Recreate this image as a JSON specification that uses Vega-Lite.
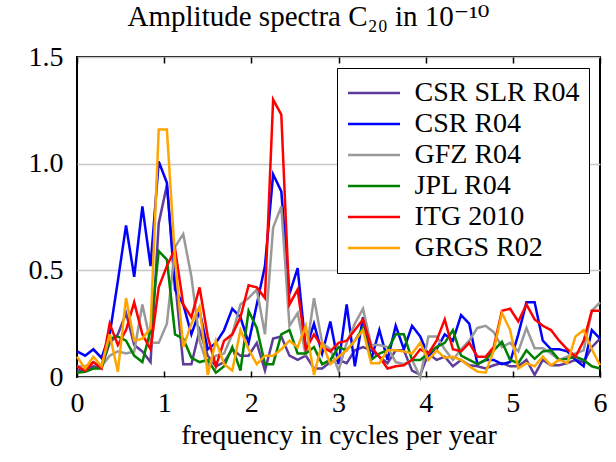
{
  "$schema": "https://vega.github.io/schema/vega-lite/v6.json",
  "width": 523,
  "height": 320,
  "autosize": {"type": "none"},
  "padding": {"left": 77, "top": 57, "right": 16, "bottom": 85},
  "background": "white",
  "config": {
    "font": "Liberation Serif",
    "view": {"stroke": "black", "strokeWidth": 2}
  },
  "title": {
    "text": "Amplitude spectra C₂₀ in 10⁻¹⁰",
    "fontSize": 29,
    "fontWeight": "normal",
    "font": "Liberation Serif, DejaVu Serif",
    "color": "black",
    "anchor": "middle",
    "frame": "group",
    "dx": -30,
    "offset": 11
  },
  "data": {
    "values": [
      {"f": 0, "CSR SLR R04": 0.03, "CSR R04": 0.12, "GFZ R04": 0.05, "JPL R04": 0.02, "ITG 2010": 0.05, "GRGS R02": 0.095},
      {"f": 0.09375, "CSR SLR R04": 0.035, "CSR R04": 0.10, "GFZ R04": 0.05, "JPL R04": 0.025, "ITG 2010": 0.03, "GRGS R02": 0.04},
      {"f": 0.1875, "CSR SLR R04": 0.05, "CSR R04": 0.13, "GFZ R04": 0.07, "JPL R04": 0.04, "ITG 2010": 0.07, "GRGS R02": 0.095},
      {"f": 0.28125, "CSR SLR R04": 0.045, "CSR R04": 0.09, "GFZ R04": 0.05, "JPL R04": 0.04, "ITG 2010": 0.04, "GRGS R02": 0.05},
      {"f": 0.375, "CSR SLR R04": 0.16, "CSR R04": 0.2, "GFZ R04": 0.1, "JPL R04": 0.18, "ITG 2010": 0.25, "GRGS R02": 0.2},
      {"f": 0.46875, "CSR SLR R04": 0.2, "CSR R04": 0.45, "GFZ R04": 0.12, "JPL R04": 0.19, "ITG 2010": 0.15, "GRGS R02": 0.025},
      {"f": 0.5625, "CSR SLR R04": 0.3, "CSR R04": 0.71, "GFZ R04": 0.11, "JPL R04": 0.17, "ITG 2010": 0.22, "GRGS R02": 0.37},
      {"f": 0.65625, "CSR SLR R04": 0.15, "CSR R04": 0.47, "GFZ R04": 0.12, "JPL R04": 0.1, "ITG 2010": 0.35, "GRGS R02": 0.17},
      {"f": 0.75, "CSR SLR R04": 0.12, "CSR R04": 0.80, "GFZ R04": 0.34, "JPL R04": 0.07, "ITG 2010": 0.2, "GRGS R02": 0.18},
      {"f": 0.84375, "CSR SLR R04": 0.07, "CSR R04": 0.52, "GFZ R04": 0.16, "JPL R04": 0.22, "ITG 2010": 0.13, "GRGS R02": 0.23},
      {"f": 0.9375, "CSR SLR R04": 0.72, "CSR R04": 1.01, "GFZ R04": 0.16, "JPL R04": 0.59, "ITG 2010": 0.42, "GRGS R02": 1.16},
      {"f": 1.03125, "CSR SLR R04": 0.9, "CSR R04": 0.91, "GFZ R04": 0.25, "JPL R04": 0.55, "ITG 2010": 0.52, "GRGS R02": 1.16},
      {"f": 1.125, "CSR SLR R04": 0.45, "CSR R04": 0.41, "GFZ R04": 0.61, "JPL R04": 0.2, "ITG 2010": 0.6, "GRGS R02": 0.55},
      {"f": 1.21875, "CSR SLR R04": 0.06, "CSR R04": 0.34, "GFZ R04": 0.67, "JPL R04": 0.18, "ITG 2010": 0.34, "GRGS R02": 0.14},
      {"f": 1.3125, "CSR SLR R04": 0.06, "CSR R04": 0.2, "GFZ R04": 0.47, "JPL R04": 0.09, "ITG 2010": 0.28, "GRGS R02": 0.25},
      {"f": 1.40625, "CSR SLR R04": 0.22, "CSR R04": 0.31, "GFZ R04": 0.17, "JPL R04": 0.07, "ITG 2010": 0.42, "GRGS R02": 0.33},
      {"f": 1.5, "CSR SLR R04": 0.1, "CSR R04": 0.13, "GFZ R04": 0.05, "JPL R04": 0.08, "ITG 2010": 0.19, "GRGS R02": 0.01},
      {"f": 1.59375, "CSR SLR R04": 0.05, "CSR R04": 0.16, "GFZ R04": 0.1, "JPL R04": 0.02, "ITG 2010": 0.05, "GRGS R02": 0.17},
      {"f": 1.6875, "CSR SLR R04": 0.07, "CSR R04": 0.22, "GFZ R04": 0.11, "JPL R04": 0.05, "ITG 2010": 0.17, "GRGS R02": 0.06},
      {"f": 1.78125, "CSR SLR R04": 0.13, "CSR R04": 0.32, "GFZ R04": 0.2, "JPL R04": 0.14, "ITG 2010": 0.2, "GRGS R02": 0.03},
      {"f": 1.875, "CSR SLR R04": 0.1, "CSR R04": 0.28, "GFZ R04": 0.34, "JPL R04": 0.03, "ITG 2010": 0.28, "GRGS R02": 0.22},
      {"f": 1.96875, "CSR SLR R04": 0.1, "CSR R04": 0.16, "GFZ R04": 0.37, "JPL R04": 0.31, "ITG 2010": 0.43, "GRGS R02": 0.13},
      {"f": 2.0625, "CSR SLR R04": 0.16, "CSR R04": 0.34, "GFZ R04": 0.41, "JPL R04": 0.23, "ITG 2010": 0.42, "GRGS R02": 0.06},
      {"f": 2.15625, "CSR SLR R04": 0.03, "CSR R04": 0.52, "GFZ R04": 0.2, "JPL R04": 0.06, "ITG 2010": 0.37, "GRGS R02": 0.10},
      {"f": 2.25, "CSR SLR R04": 0.18, "CSR R04": 0.95, "GFZ R04": 0.70, "JPL R04": 0.06, "ITG 2010": 1.30, "GRGS R02": 0.10},
      {"f": 2.34375, "CSR SLR R04": 0.19, "CSR R04": 0.87, "GFZ R04": 0.80, "JPL R04": 0.2, "ITG 2010": 1.23, "GRGS R02": 0.13},
      {"f": 2.4375, "CSR SLR R04": 0.1, "CSR R04": 0.39, "GFZ R04": 0.24, "JPL R04": 0.22, "ITG 2010": 0.34, "GRGS R02": 0.17},
      {"f": 2.53125, "CSR SLR R04": 0.08, "CSR R04": 0.51, "GFZ R04": 0.30, "JPL R04": 0.11, "ITG 2010": 0.41, "GRGS R02": 0.14},
      {"f": 2.625, "CSR SLR R04": 0.1, "CSR R04": 0.13, "GFZ R04": 0.10, "JPL R04": 0.11, "ITG 2010": 0.13, "GRGS R02": 0.24},
      {"f": 2.71875, "CSR SLR R04": 0.04, "CSR R04": 0.25, "GFZ R04": 0.37, "JPL R04": 0.14, "ITG 2010": 0.2, "GRGS R02": 0.01},
      {"f": 2.8125, "CSR SLR R04": 0.04, "CSR R04": 0.11, "GFZ R04": 0.16, "JPL R04": 0.06, "ITG 2010": 0.14, "GRGS R02": 0.16},
      {"f": 2.90625, "CSR SLR R04": 0.07, "CSR R04": 0.26, "GFZ R04": 0.13, "JPL R04": 0.08, "ITG 2010": 0.12, "GRGS R02": 0.06},
      {"f": 3, "CSR SLR R04": 0.08, "CSR R04": 0.06, "GFZ R04": 0.03, "JPL R04": 0.14, "ITG 2010": 0.16, "GRGS R02": 0.095},
      {"f": 3.09375, "CSR SLR R04": 0.065, "CSR R04": 0.34, "GFZ R04": 0.16, "JPL R04": 0.125, "ITG 2010": 0.17, "GRGS R02": 0.125},
      {"f": 3.1875, "CSR SLR R04": 0.125, "CSR R04": 0.05, "GFZ R04": 0.25, "JPL R04": 0.17, "ITG 2010": 0.22, "GRGS R02": 0.17},
      {"f": 3.28125, "CSR SLR R04": 0.14, "CSR R04": 0.28, "GFZ R04": 0.32, "JPL R04": 0.23, "ITG 2010": 0.27, "GRGS R02": 0.22},
      {"f": 3.375, "CSR SLR R04": 0.125, "CSR R04": 0.08, "GFZ R04": 0.15, "JPL R04": 0.08, "ITG 2010": 0.14, "GRGS R02": 0.065},
      {"f": 3.46875, "CSR SLR R04": 0.095, "CSR R04": 0.22, "GFZ R04": 0.15, "JPL R04": 0.11, "ITG 2010": 0.095, "GRGS R02": 0.065},
      {"f": 3.5625, "CSR SLR R04": 0.065, "CSR R04": 0.08, "GFZ R04": 0.14, "JPL R04": 0.125, "ITG 2010": 0.04, "GRGS R02": 0.125},
      {"f": 3.65625, "CSR SLR R04": 0.125, "CSR R04": 0.24, "GFZ R04": 0.07, "JPL R04": 0.2, "ITG 2010": 0.05, "GRGS R02": 0.125},
      {"f": 3.75, "CSR SLR R04": 0.125, "CSR R04": 0.13, "GFZ R04": 0.06, "JPL R04": 0.2, "ITG 2010": 0.055, "GRGS R02": 0.12},
      {"f": 3.84375, "CSR SLR R04": 0.03, "CSR R04": 0.24, "GFZ R04": 0.08, "JPL R04": 0.08, "ITG 2010": 0.08, "GRGS R02": 0.11},
      {"f": 3.9375, "CSR SLR R04": 0.01, "CSR R04": 0.19, "GFZ R04": 0.0, "JPL R04": 0.08, "ITG 2010": 0.13, "GRGS R02": 0.16},
      {"f": 4.03125, "CSR SLR R04": 0.11, "CSR R04": 0.1, "GFZ R04": 0.19, "JPL R04": 0.11, "ITG 2010": 0.11, "GRGS R02": 0.08},
      {"f": 4.125, "CSR SLR R04": 0.08, "CSR R04": 0.13, "GFZ R04": 0.19, "JPL R04": 0.14, "ITG 2010": 0.17, "GRGS R02": 0.125},
      {"f": 4.21875, "CSR SLR R04": 0.095, "CSR R04": 0.2, "GFZ R04": 0.13, "JPL R04": 0.16, "ITG 2010": 0.27, "GRGS R02": 0.09},
      {"f": 4.3125, "CSR SLR R04": 0.05, "CSR R04": 0.17, "GFZ R04": 0.08, "JPL R04": 0.22, "ITG 2010": 0.13, "GRGS R02": 0.095},
      {"f": 4.40625, "CSR SLR R04": 0.08, "CSR R04": 0.29, "GFZ R04": 0.13, "JPL R04": 0.1, "ITG 2010": 0.12, "GRGS R02": 0.08},
      {"f": 4.5, "CSR SLR R04": 0.055, "CSR R04": 0.25, "GFZ R04": 0.17, "JPL R04": 0.08, "ITG 2010": 0.16, "GRGS R02": 0.05},
      {"f": 4.59375, "CSR SLR R04": 0.05, "CSR R04": 0.06, "GFZ R04": 0.23, "JPL R04": 0.06, "ITG 2010": 0.095, "GRGS R02": 0.025},
      {"f": 4.6875, "CSR SLR R04": 0.04, "CSR R04": 0.08, "GFZ R04": 0.24, "JPL R04": 0.08, "ITG 2010": 0.095, "GRGS R02": 0.02},
      {"f": 4.78125, "CSR SLR R04": 0.055, "CSR R04": 0.08, "GFZ R04": 0.21, "JPL R04": 0.125, "ITG 2010": 0.14, "GRGS R02": 0.125},
      {"f": 4.875, "CSR SLR R04": 0.065, "CSR R04": 0.06, "GFZ R04": 0.14, "JPL R04": 0.165, "ITG 2010": 0.31, "GRGS R02": 0.30},
      {"f": 4.96875, "CSR SLR R04": 0.05, "CSR R04": 0.07, "GFZ R04": 0.16, "JPL R04": 0.08, "ITG 2010": 0.32, "GRGS R02": 0.22},
      {"f": 5.0625, "CSR SLR R04": 0.05, "CSR R04": 0.2, "GFZ R04": 0.12, "JPL R04": 0.065, "ITG 2010": 0.26, "GRGS R02": 0.04},
      {"f": 5.15625, "CSR SLR R04": 0.08, "CSR R04": 0.35, "GFZ R04": 0.23, "JPL R04": 0.125, "ITG 2010": 0.34, "GRGS R02": 0.065},
      {"f": 5.25, "CSR SLR R04": 0.01, "CSR R04": 0.35, "GFZ R04": 0.135, "JPL R04": 0.085, "ITG 2010": 0.27, "GRGS R02": 0.05},
      {"f": 5.34375, "CSR SLR R04": 0.08, "CSR R04": 0.17, "GFZ R04": 0.135, "JPL R04": 0.12, "ITG 2010": 0.24, "GRGS R02": 0.095},
      {"f": 5.4375, "CSR SLR R04": 0.055, "CSR R04": 0.13, "GFZ R04": 0.11, "JPL R04": 0.125, "ITG 2010": 0.22, "GRGS R02": 0.055},
      {"f": 5.53125, "CSR SLR R04": 0.055, "CSR R04": 0.13, "GFZ R04": 0.08, "JPL R04": 0.08, "ITG 2010": 0.17, "GRGS R02": 0.08},
      {"f": 5.625, "CSR SLR R04": 0.065, "CSR R04": 0.12, "GFZ R04": 0.095, "JPL R04": 0.085, "ITG 2010": 0.13, "GRGS R02": 0.065},
      {"f": 5.71875, "CSR SLR R04": 0.08, "CSR R04": 0.08, "GFZ R04": 0.11, "JPL R04": 0.095, "ITG 2010": 0.095, "GRGS R02": 0.19},
      {"f": 5.8125, "CSR SLR R04": 0.07, "CSR R04": 0.05, "GFZ R04": 0.125, "JPL R04": 0.08, "ITG 2010": 0.17, "GRGS R02": 0.22},
      {"f": 5.90625, "CSR SLR R04": 0.14, "CSR R04": 0.22, "GFZ R04": 0.31, "JPL R04": 0.05, "ITG 2010": 0.31, "GRGS R02": 0.13},
      {"f": 6, "CSR SLR R04": 0.18, "CSR R04": 0.18, "GFZ R04": 0.35, "JPL R04": 0.04, "ITG 2010": 0.31, "GRGS R02": 0.055}
    ]
  },
  "transform": [
    {"fold": ["CSR SLR R04", "CSR R04", "GFZ R04", "JPL R04", "ITG 2010", "GRGS R02"], "as": ["series", "value"]}
  ],
  "layer": [
    {
      "mark": {"type": "line", "strokeWidth": 2.5, "strokeJoin": "miter"},
      "encoding": {
        "x": {
          "field": "f",
          "type": "quantitative",
          "scale": {"domain": [0, 6], "nice": false, "zero": false},
          "axis": {
            "orient": "bottom",
            "values": [0, 1, 2, 3, 4, 5, 6],
            "format": "d",
            "domain": false,
            "grid": false,
            "ticks": true,
            "tickSize": -6,
            "tickColor": "black",
            "tickWidth": 1.5,
            "labelFont": "Liberation Serif",
            "labelFontSize": 28,
            "labelColor": "black",
            "labelPadding": 18,
            "labelFlush": false,
            "labelOverlap": false,
            "title": "frequency in cycles per year",
            "titleFont": "Liberation Serif",
            "titleFontSize": 28,
            "titleFontWeight": "normal",
            "titleColor": "black",
            "titlePadding": 4
          }
        },
        "y": {
          "field": "value",
          "type": "quantitative",
          "scale": {"domain": [0, 1.5], "nice": false},
          "axis": {
            "values": [0, 0.5, 1, 1.5],
            "labelExpr": "datum.value == 0 ? '0' : format(datum.value, '.1f')",
            "domain": false,
            "ticks": false,
            "grid": true,
            "gridColor": "#c8c8c8",
            "gridWidth": 1.5,
            "labelFont": "Liberation Serif",
            "labelFontSize": 28,
            "labelColor": "black",
            "labelPadding": 14,
            "labelFlush": false,
            "labelOverlap": false,
            "title": null
          }
        },
        "color": {
          "field": "series",
          "type": "nominal",
          "scale": {
            "domain": ["CSR SLR R04", "CSR R04", "GFZ R04", "JPL R04", "ITG 2010", "GRGS R02"],
            "range": ["#5e3c99", "#0000ff", "#999999", "#008000", "#ff0000", "#ffa500"]
          },
          "legend": {
            "title": null,
            "orient": "none",
            "legendX": 260,
            "legendY": 11,
            "symbolType": "stroke",
            "symbolSize": 2704,
            "symbolStrokeWidth": 2.5,
            "clipHeight": 31,
            "rowPadding": 0,
            "padding": 9.5,
            "labelOffset": 13,
            "labelFont": "Liberation Serif",
            "labelFontSize": 28,
            "labelColor": "black",
            "labelLimit": 400,
            "strokeColor": "black",
            "fillColor": "white",
            "cornerRadius": 0
          }
        }
      }
    },
    {
      "mark": {"type": "line", "opacity": 0},
      "encoding": {
        "x": {
          "field": "f",
          "type": "quantitative",
          "axis": {
            "orient": "top",
            "values": [0, 1, 2, 3, 4, 5, 6],
            "labels": false,
            "domain": false,
            "grid": false,
            "tickSize": -6,
            "tickColor": "black",
            "tickWidth": 1.5,
            "title": null
          }
        },
        "y": {"field": "value", "type": "quantitative"},
        "detail": {"field": "series"}
      }
    }
  ],
  "resolve": {"axis": {"x": "independent"}}
}
